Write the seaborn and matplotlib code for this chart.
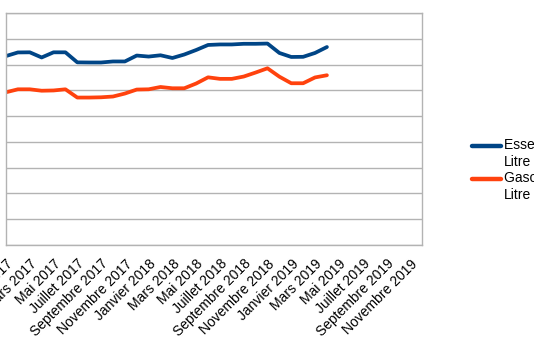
import numpy as np
import pandas as pd
import matplotlib
matplotlib.use("Agg")
import matplotlib.pyplot as plt
from matplotlib.legend_handler import HandlerLine2D
import seaborn as sns

months = ["Janvier", "Février", "Mars", "Avril", "Mai", "Juin", "Juillet", "Août",
          "Septembre", "Octobre", "Novembre", "Décembre"]
years = [2017, 2018, 2019]
categories = [f"{m} {y}" for y in years for m in months]

essence = [1.466, 1.494, 1.495, 1.455, 1.495, 1.495, 1.417, 1.416, 1.416, 1.424,
           1.424, 1.470, 1.462, 1.472, 1.451, 1.478, 1.513, 1.552, 1.556, 1.556,
           1.561, 1.561, 1.563, 1.490, 1.459, 1.460, 1.490, 1.536]
gasoil = [1.185, 1.208, 1.208, 1.197, 1.199, 1.208, 1.144, 1.144, 1.146, 1.152,
          1.175, 1.206, 1.208, 1.226, 1.216, 1.216, 1.253, 1.301, 1.289, 1.289,
          1.307, 1.338, 1.371, 1.306, 1.255, 1.255, 1.300, 1.317]
series_names = ["Essence par\nLitre", "Gasoil par\nLitre"]
colors = ["#004586", "#ff420e"]
yticks = [0.0, 0.2, 0.4, 0.6, 0.8, 1.0, 1.2, 1.4, 1.6, 1.8]

sns.set_style("white")
plt.rcParams["font.family"] = ["Liberation Sans", "DejaVu Sans"]
plt.rcParams["text.color"] = "black"
plt.rcParams["xtick.labelcolor"] = "black"

rows = []
for name, vals in zip(series_names, [essence, gasoil]):
    for i, v in enumerate(vals):
        rows.append({"idx": i, "valeur": v, "serie": name})
df = pd.DataFrame(rows)

W, H = 534, 340
fig = plt.figure(figsize=(W / 100, H / 100), dpi=100)
ax = fig.add_axes([6 / W, 1 - 245 / H, 416 / W, 232 / H])

sns.lineplot(data=df, x="idx", y="valeur", hue="serie", palette=colors,
             linewidth=2.7, ax=ax, legend=False)

grid_c = "#b3b3b3"
ax.set_xlim(0, len(categories) - 1)
ax.set_ylim(yticks[0], yticks[-1])
ax.set_yticks(yticks)
ax.yaxis.grid(True, color=grid_c, linewidth=1)
ax.set_axisbelow(True)
for s in ax.spines.values():
    s.set_color(grid_c)
    s.set_linewidth(1)
ax.set_xticks(range(len(categories)))
ax.set_xticklabels([c if i % 2 == 0 else "" for i, c in enumerate(categories)],
                   rotation=45, ha="right", rotation_mode="anchor", fontsize=10,
                   color="black")
ax.tick_params(axis="x", length=4, color=grid_c, width=1, pad=4.5)
ax.tick_params(axis="y", length=6, color=grid_c, width=1, labelleft=False)
ax.set_xlabel("")
ax.set_ylabel("")


class UpHandler(HandlerLine2D):
    def create_artists(self, legend, orig_handle, xdescent, ydescent, width,
                       height, fontsize, trans):
        arts = super().create_artists(legend, orig_handle, xdescent, ydescent,
                                      width, height, fontsize, trans)
        for a in arts:
            a.set_ydata(np.asarray(a.get_ydata()) + 0.6 * fontsize)
        return arts


handles = [plt.Line2D([], [], color=c, linewidth=3.2) for c in colors]
leg = fig.legend(handles, series_names, loc="center left",
                 bbox_to_anchor=(465 / W, 1 - 170 / H), frameon=False,
                 fontsize=10, handlelength=2.1, handletextpad=0.2, borderpad=0,
                 labelspacing=0.2, handler_map={plt.Line2D: UpHandler()})
for t in leg.get_texts():
    t.set_color("black")

fig.savefig("out.png", dpi=100)
